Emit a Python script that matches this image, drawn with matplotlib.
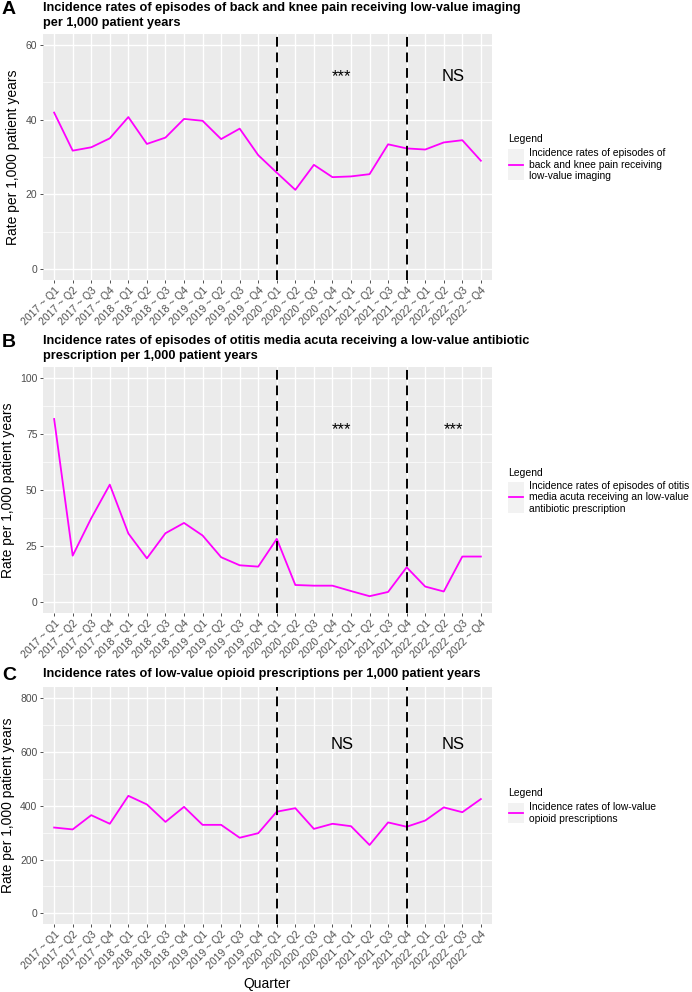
import matplotlib
matplotlib.use("Agg")
import matplotlib.pyplot as plt
from matplotlib.patches import Rectangle
from matplotlib.lines import Line2D

plt.rcParams['font.family'] = ['Liberation Sans', 'DejaVu Sans']

quarters = [f"{y} ~ Q{q}" for y in range(2017, 2023) for q in range(1, 5)]

imaging = [41.9, 31.7, 32.6, 35.0, 40.7, 33.5, 35.2, 40.2, 39.7, 34.8, 37.6, 30.5,
           25.8, 21.2, 27.9, 24.6, 24.8, 25.4, 33.4, 32.3, 32.0, 33.9, 34.5, 29.0]
antibiotic = [81.8, 20.8, 37.5, 52.5, 30.7, 19.6, 30.8, 35.4, 29.8, 20.1, 16.5, 15.9,
              28.3, 7.7, 7.4, 7.4, 5.0, 2.7, 4.6, 15.6, 7.0, 4.8, 20.4, 20.4]
opioid = [319, 312, 365, 333, 437, 405, 340, 396, 329, 329, 281, 298,
          378, 391, 314, 333, 324, 254, 338, 322, 345, 394, 376, 425]

titles = ["Incidence rates of episodes of back and knee pain receiving low-value imaging\nper 1,000 patient years",
          "Incidence rates of episodes of otitis media acuta receiving a low-value antibiotic\nprescription per 1,000 patient years",
          "Incidence rates of low-value opioid prescriptions per 1,000 patient years"]
legend_labels = ["Incidence rates of episodes of\nback and knee pain receiving\nlow-value imaging",
                 "Incidence rates of episodes of otitis\nmedia acuta receiving an low-value\nantibiotic prescription",
                 "Incidence rates of low-value\nopioid prescriptions"]
letters = ["A", "B", "C"]
signif_1 = ["***", "***", "NS"]
signif_2 = ["NS", "***", "NS"]
break_quarters = ["2020 ~ Q1", "2021 ~ Q4"]

W, H = 692, 992
fig = plt.figure(figsize=(W / 100, H / 100), dpi=100)

# panel layout in pixels
panels = [
    dict(data=imaging, top=34, bottom=280, ylim=(-2.95, 62.95), ticks=[0, 20, 40, 60],
         sig_y=51.6, title_y=2, leg_title=139, key=(149, 180)),
    dict(data=antibiotic, top=367, bottom=613, ylim=(-4.8, 105.0), ticks=[0, 25, 50, 75, 100],
         sig_y=77, title_y=335, leg_title=473, key=(482, 513)),
    dict(data=opioid, top=687, bottom=924, ylim=(-40, 842), ticks=[0, 200, 400, 600, 800],
         sig_y=629, title_y=668, leg_title=793, key=(803, 823)),
]

left, right = 43, 492
x = list(range(len(quarters)))

for i, p in enumerate(panels):
    ax = fig.add_axes([left / W, 1 - p['bottom'] / H, (right - left) / W, (p['bottom'] - p['top']) / H])
    ax.set_facecolor('#EBEBEB')
    for s in ax.spines.values():
        s.set_visible(False)
    ax.set_xlim(-0.6, len(quarters) - 0.4)
    ax.set_ylim(*p['ylim'])
    ax.set_yticks(p['ticks'])
    t = p['ticks']
    minors = [(a + b) / 2 for a, b in zip(t[:-1], t[1:])]
    ax.set_yticks(minors, minor=True)
    ax.grid(True, which='major', color='white', lw=1.0)
    ax.grid(True, which='minor', axis='y', color='white', lw=0.5)
    ax.set_axisbelow(True)
    ax.tick_params(which='minor', length=0)
    ax.tick_params(which='major', length=2.5, color='#333333', labelcolor='#4D4D4D',
                   labelsize=7.5, pad=1.5, width=0.6)
    ax.set_xticks(x)
    ax.set_xticklabels(quarters, rotation=45, ha='right', rotation_mode='anchor')
    ax.set_ylabel("Rate per 1,000 patient years", fontsize=10, labelpad=4)

    ax.plot(x, p['data'], color='#FF00FF', lw=1.3)
    for bq in break_quarters:
        ax.axvline(quarters.index(bq), color='black', lw=1.4, dashes=(5, 3))

    ax.text(15.5, p['sig_y'], signif_1[i], ha='center', va='center', fontsize=12)
    ax.text(21.5, p['sig_y'], signif_2[i], ha='center', va='center', fontsize=12)

    fig.text(left / W, 1 - p['title_y'] / H, titles[i], ha='left', va='top',
             fontsize=9.15, fontweight='bold', linespacing=1.3)
    fig.text(2 / W, 1 - (p['title_y'] - 1) / H, letters[i], ha='left', va='top',
             fontsize=14, fontweight='bold')

    # legend
    fig.text(508 / W, 1 - p['leg_title'] / H, "Legend", ha='left', va='center', fontsize=7.5)
    k0, k1 = p['key']
    fig.patches.append(Rectangle((508 / W, 1 - k1 / H), 16 / W, (k1 - k0) / H,
                                 transform=fig.transFigure, facecolor='#F2F2F2', edgecolor='none'))
    km = (k0 + k1) / 2
    fig.lines.append(Line2D([509 / W, 523 / W], [1 - km / H, 1 - km / H],
                            transform=fig.transFigure, color='#FF00FF', lw=1.3))
    fig.text(529 / W, 1 - km / H, legend_labels[i], ha='left', va='center', fontsize=7.4,
             linespacing=1.2)

    if i == 2:
        ax.set_xlabel("Quarter", fontsize=10, labelpad=4)

fig.savefig("out.png", dpi=100)
